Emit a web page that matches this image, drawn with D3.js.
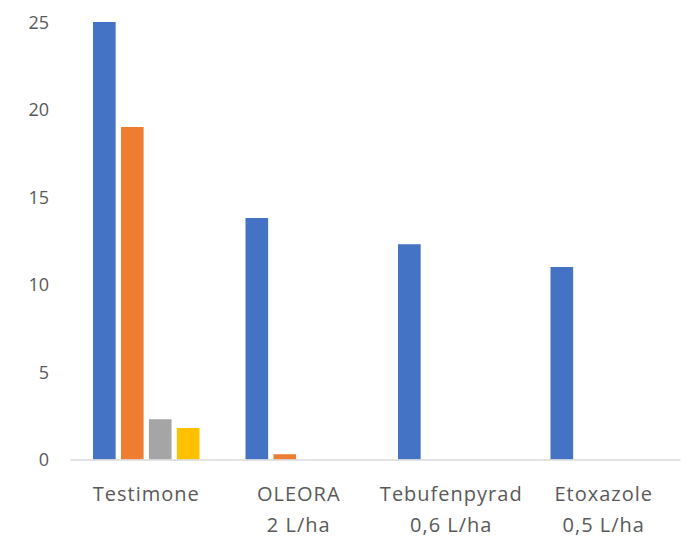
<!DOCTYPE html>
<html>
<head>
<meta charset="utf-8">
<script src="https://cdn.jsdelivr.net/npm/d3@7"></script>
<style>
  html, body { margin: 0; padding: 0; background: #fff; }
  svg { display: block; }
  text { font-family: "Open Sans", "Noto Sans", sans-serif; fill: #595959; }
</style>
</head>
<body>
<svg id="chart" width="689" height="538"></svg>
<script>
const categories = [["Testimone"], ["OLEORA", "2 L/ha"], ["Tebufenpyrad", "0,6 L/ha"], ["Etoxazole", "0,5 L/ha"]];
const seriesNames = ["S1", "S2", "S3", "S4"];
const seriesColors = ["#4472C4", "#ED7D31", "#A5A5A5", "#FFC000"];
const series1 = [25, 13.8, 12.3, 11.0];
const series2 = [19, 0.3, 0, 0];
const series3 = [2.3, 0, 0, 0];
const series4 = [1.8, 0, 0, 0];
const yTicks = [0, 5, 10, 15, 20, 25];

(function () {
const seriesValues = [series1, series2, series3, series4];
const svg = d3.select("#chart");
const mLeft = 70, mRight = 680, mTop = 22, mBottom = 459.5;

const x0 = d3.scaleBand().domain(d3.range(categories.length)).range([mLeft, mRight]).paddingInner(0).paddingOuter(0);
const outer = 23;
const x1 = d3.scaleBand().domain(seriesNames).range([outer, x0.bandwidth() - outer]).paddingInner(0.19).paddingOuter(0);
const y = d3.scaleLinear().domain([0, 25]).range([mBottom, mTop]);

const yAxis = d3.axisLeft(y).tickValues(yTicks).tickSize(0).tickPadding(0);
const ya = svg.append("g").attr("transform", `translate(49,0)`).call(yAxis);
ya.select(".domain").remove();
ya.selectAll("text").attr("font-size", 18).attr("font-family", "\"Open Sans\", sans-serif").attr("fill", "#595959").attr("dy", "0.36em");

const groups = svg.append("g").selectAll("g").data(categories).join("g")
  .attr("transform", (d, i) => `translate(${x0(i)},0)`);
groups.selectAll("rect").data((d, i) => seriesNames.map((s, j) => ({ s, j, v: seriesValues[j][i] })))
  .join("rect")
  .attr("x", d => x1(d.s))
  .attr("width", x1.bandwidth())
  .attr("y", d => y(d.v))
  .attr("height", d => y(0) - y(d.v))
  .attr("fill", d => seriesColors[d.j]);

const xAxis = d3.axisBottom(x0).tickSize(0).tickFormat("");
const xa = svg.append("g").attr("transform", `translate(0,${mBottom})`).call(xAxis);
xa.select(".domain").attr("stroke", "#D9D9D9").attr("stroke-width", 1.5);

const lab = svg.append("g");
categories.forEach((lines, i) => {
  const cx = x0(i) + x0.bandwidth() / 2;
  lines.forEach((t, k) => {
    lab.append("text").attr("x", cx).attr("y", 501 + k * 31)
      .attr("text-anchor", "middle").attr("font-size", 20)
      .attr("letter-spacing", "1px").text(t);
  });
});
})();
</script>
</body>
</html>
